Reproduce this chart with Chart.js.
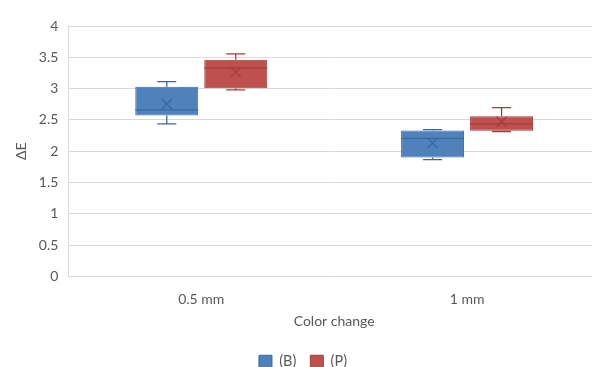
<!DOCTYPE html>
<html>
<head>
<meta charset="utf-8">
<script src="https://cdn.jsdelivr.net/npm/chart.js@4/dist/chart.umd.min.js"></script>
<style>
html,body{margin:0;padding:0;overflow:hidden;background:#fff;width:592px;height:367px;}
canvas{display:block;}
</style>
</head>
<body>
<canvas id="c" width="620" height="367"></canvas>
<script>
const categories = ['0.5 mm', '1 mm'];
const seriesNames = ['(B)', '(P)'];
const bMin    = [2.435, 1.865];
const bQ1     = [2.57, 1.90];
const bMedian = [2.66, 2.205];
const bQ3     = [3.03, 2.33];
const bMax    = [3.11, 2.345];
const bMean   = [2.755, 2.13];
const pMin    = [2.98, 2.315];
const pQ1     = [3.005, 2.325];
const pMedian = [3.33, 2.435];
const pQ3     = [3.46, 2.56];
const pMax    = [3.555, 2.695];
const pMean   = [3.26, 2.47];
const yTicks = [0, 0.5, 1, 1.5, 2, 2.5, 3, 3.5, 4];

const stats = [
  {min:bMin, q1:bQ1, med:bMedian, q3:bQ3, max:bMax, mean:bMean},
  {min:pMin, q1:pQ1, med:pMedian, q3:pQ3, max:pMax, mean:pMean}
];
const fills = ['#4F81BD', '#C0504D'];
const borders = ['#3A679E', '#A03E3B'];

const boxPlugin = {
  id: 'boxExtras',
  afterDatasetsDraw(chart) {
    const ctx = chart.ctx;
    const y = chart.scales.y;
    chart.data.datasets.forEach((ds, di) => {
      const meta = chart.getDatasetMeta(di);
      const s = stats[di];
      meta.data.forEach((bar, i) => {
        const x = bar.x;
        const w = bar.width;
        const left = x - w/2, right = x + w/2;
        const pMax = y.getPixelForValue(s.max[i]);
        const pMin = y.getPixelForValue(s.min[i]);
        const pQ1 = y.getPixelForValue(s.q1[i]);
        const pQ3 = y.getPixelForValue(s.q3[i]);
        const pMed = y.getPixelForValue(s.med[i]);
        const pMean = y.getPixelForValue(s.mean[i]);
        ctx.save();
        ctx.strokeStyle = borders[di];
        ctx.lineWidth = 1.3;
        const cap = 9.5;
        ctx.beginPath();
        ctx.moveTo(x, pQ3); ctx.lineTo(x, pMax);
        ctx.moveTo(x - cap, pMax); ctx.lineTo(x + cap, pMax);
        ctx.moveTo(x, pQ1); ctx.lineTo(x, pMin);
        ctx.moveTo(x - cap, pMin); ctx.lineTo(x + cap, pMin);
        ctx.moveTo(left, pMed); ctx.lineTo(right, pMed);
        ctx.stroke();
        const m = 5;
        ctx.beginPath();
        ctx.moveTo(x - m, pMean - m); ctx.lineTo(x + m, pMean + m);
        ctx.moveTo(x + m, pMean - m); ctx.lineTo(x - m, pMean + m);
        ctx.stroke();
        ctx.restore();
      });
    });
  }
};

const datasets = seriesNames.map((name, di) => ({
  label: name,
  data: stats[di].q1.map((v, i) => [v, stats[di].q3[i]]),
  backgroundColor: fills[di],
  borderColor: borders[di],
  borderWidth: 1,
  borderSkipped: false,
  barPercentage: 0.913,
  categoryPercentage: 0.519
}));

Chart.defaults.font.family = 'Lato, "Open Sans", sans-serif';
Chart.defaults.color = '#595959';

new Chart(document.getElementById('c'), {
  type: 'bar',
  data: { labels: categories, datasets },
  options: {
    responsive: false,
    animation: false,
    layout: { padding: { left: 6, right: 20, top: 26, bottom: -12 } },
    plugins: {
      legend: {
        position: 'bottom',
        labels: { boxWidth: 13, boxHeight: 13, font: { size: 14.5 }, color: '#595959', padding: 14 }
      },
      tooltip: { enabled: false }
    },
    scales: {
      x: {
        grid: { display: false, drawTicks: false },
        border: { display: true, color: '#d9d9d9' },
        ticks: { font: { size: 14 }, color: '#595959', padding: 15 },
        title: { display: true, text: 'Color change', font: { size: 14 }, color: '#595959', padding: { top: -10, bottom: 10.5 } }
      },
      y: {
        min: 0, max: 4,
        afterBuildTicks(scale) { scale.ticks = yTicks.map(v => ({ value: v })); },
        grid: { color: '#d9d9d9', drawTicks: false, lineWidth: 1 },
        border: { display: true, color: '#d9d9d9' },
        ticks: { font: { size: 14 }, color: '#595959', padding: 10, callback: v => String(v) },
        title: { display: true, text: 'ΔE', font: { size: 14 }, color: '#595959', padding: { top: 7, bottom: -1 } }
      }
    }
  },
  plugins: [boxPlugin]
});
</script>
</body>
</html>
